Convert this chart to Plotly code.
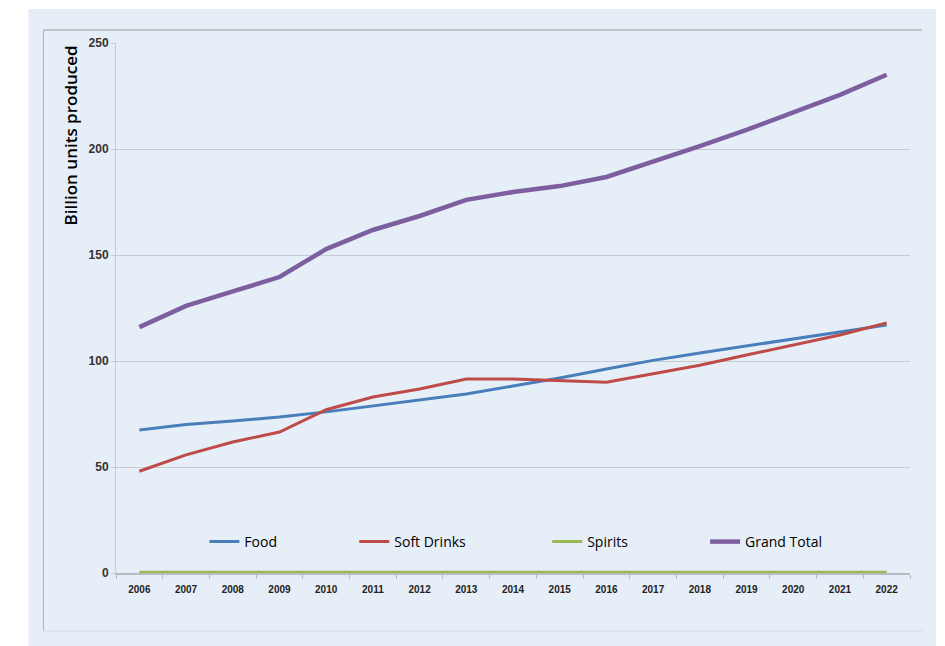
import plotly.graph_objects as go

years = list(range(2006, 2023))
food = [67.5, 70.0, 71.7, 73.6, 76.0, 78.8, 81.6, 84.4, 88.2, 92.0, 96.2, 100.3, 103.8, 107.0, 110.4, 113.7, 117.0]
soft_drinks = [48.0, 55.7, 61.8, 66.5, 77.0, 83.0, 86.8, 91.5, 91.5, 90.6, 90.0, 94.0, 98.0, 102.8, 107.5, 112.3, 118.0]
spirits = [0.3] * 17
grand_total = [116.0, 126.0, 132.8, 139.6, 152.8, 161.8, 168.4, 176.0, 179.7, 182.5, 186.8, 194.0, 201.4, 209.0, 217.0, 225.5, 235.0]

OFF = 8  # page body margin
W, H = 945 - OFF, 646 - OFF
ML, MR, MT, MB = 115.6 - OFF, 35, 43 - OFF, 73
PW, PH = W - ML - MR, H - MT - MB

def px(x):
    return (x - OFF - ML) / PW

def py(y):
    return 1 - (y - OFF - MT) / PH

fig = go.Figure()
series = [
    ("Food", food, "#4a7ebb", 3, "legend"),
    ("Soft Drinks", soft_drinks, "#be4b48", 3, "legend2"),
    ("Spirits", spirits, "#98b954", 3, "legend3"),
    ("Grand Total", grand_total, "#7d5fa0", 4.5, "legend4"),
]
for name, vals, col, w, lg in series:
    fig.add_trace(go.Scatter(x=years, y=vals, name=name, mode="lines",
                             line=dict(color=col, width=w), legend=lg,
                             cliponaxis=False))

legend_x = [220, 370, 563, 721]
leg_common = dict(orientation="h", yanchor="middle", xanchor="left",
                  bgcolor="rgba(0,0,0,0)", font=dict(family="Open Sans", size=14, color="#000000"),
                  itemwidth=30, tracegroupgap=0)
layout_legs = {}
for i, lx in enumerate(legend_x):
    key = "legend" if i == 0 else f"legend{i+1}"
    layout_legs[key] = dict(leg_common, x=px(lx - 16), y=py(542))

BG = "#e6eef8"
fig.update_layout(
    width=W, height=H,
    margin=dict(l=ML, r=MR, t=MT, b=MB),
    paper_bgcolor="#ffffff",
    plot_bgcolor=BG,
    showlegend=True,
    **layout_legs,
    xaxis=dict(range=[2005.5, 2022.5], tickmode="array", tickvals=years,
               ticktext=[str(y) for y in years], ticks="", showgrid=False,
               showline=True, linecolor="#b8bcc2", linewidth=1.5, zeroline=False,
               tickfont=dict(family="Liberation Sans", size=10, color="#222222", weight="bold"),
               ticklabelstandoff=6,
               minor=dict(tickmode="linear", tick0=2005.5, dtick=1, ticks="outside",
                          ticklen=4, tickcolor="#b8bcc2", showgrid=False)),
    yaxis=dict(range=[0, 250], dtick=50, ticks="outside", ticklen=4, tickcolor="#c8ccd2",
               showgrid=True, gridcolor="#c8ccd2", gridwidth=1, showline=True,
               linecolor="#c8ccd2", zeroline=False,
               tickfont=dict(family="Liberation Sans", size=12, color="#333333", weight="bold")),
)

fig.add_annotation(text="Billion units produced", xref="paper", yref="paper",
                   x=px(70), y=py(43), xanchor="center", yanchor="top", textangle=-90,
                   showarrow=False,
                   font=dict(family="Open Sans", size=17, color="#000000", weight=600))

# light blue chart area and frame
fig.add_shape(type="rect", xref="paper", yref="paper", layer="below",
              x0=px(28), x1=px(936), y0=py(650), y1=py(9),
              fillcolor=BG, line=dict(width=0))
fig.add_shape(type="line", xref="paper", yref="paper", layer="below",
              x0=px(43), x1=px(922), y0=py(30), y1=py(30), line=dict(color="#9a9a9a", width=1))
fig.add_shape(type="line", xref="paper", yref="paper", layer="below",
              x0=px(43), x1=px(43), y0=py(631), y1=py(30), line=dict(color="#b0b4ba", width=1))
fig.add_shape(type="line", xref="paper", yref="paper", layer="below",
              x0=px(43), x1=px(922), y0=py(631), y1=py(631), line=dict(color="#d4d8de", width=1))

fig.write_html("out.html")
